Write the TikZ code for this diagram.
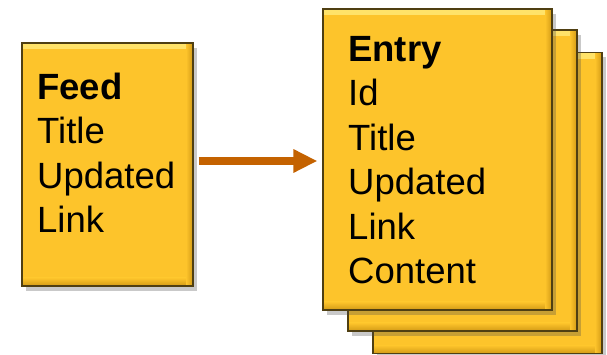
\documentclass[tikz,border=0pt]{standalone}
\usepackage{fontspec}
\setmainfont{Liberation Sans}
\usetikzlibrary{arrows.meta}
\usetikzlibrary{shadows}
\usetikzlibrary{positioning}

\definecolor{cardfill}{HTML}{FDC42B}
\definecolor{cardedge}{HTML}{4F3F12}
\definecolor{cardlight}{HTML}{FFE36A}
\definecolor{carddark}{HTML}{D29A16}
\definecolor{linkcol}{HTML}{C46200}

\tikzset{
  card/.style={rectangle, draw=cardedge, line width=1.2pt, fill=cardfill,
    inner sep=0pt, minimum width=229pt, minimum height=301pt,
    drop shadow={shadow xshift=4pt, shadow yshift=-5pt, opacity=0.3, fill=black!70},
    path picture={
      \shade[top color=cardlight, bottom color=cardfill]
        (path picture bounding box.north west) rectangle ([yshift=-6pt]path picture bounding box.north east);
      \shade[top color=cardfill, bottom color=carddark]
        ([yshift=8pt]path picture bounding box.south west) rectangle (path picture bounding box.south east);
      \shade[left color=cardfill, right color=carddark]
        ([xshift=-7pt]path picture bounding box.south east) rectangle (path picture bounding box.north east);
    }},
  fields/.style={align=left, inner sep=0pt, anchor=base west,
    font=\fontsize{36.5}{44.5}\selectfont},
  link/.style={draw=linkcol, line width=8pt, -{Triangle[length=24pt,width=22pt]},
    shorten <=5pt, shorten >=5pt}
}

\begin{document}
\begin{tikzpicture}[x=1pt,y=1pt]
  \useasboundingbox (0,0) rectangle (607,355);
  \begin{scope}[every node/.style={card}]
    \node (feed) at (107.5,190.5) [minimum width=171pt, minimum height=243pt] {};
    \node (entryC) at (487.5,152) {};
    \node (entryB) at (462.5,174.5) {};
    \node (entry) at (437.5,195.5) {};
  \end{scope}
  % base of a multi-line node is its last line
  \node[fields] (feedtext) at (37,122) {\textbf{Feed}\\Title\\Updated\\Link};
  \node[fields] (entrytext) at (348,71) {\textbf{Entry}\\Id\\Title\\Updated\\Link\\Content};
  \draw[link] ([yshift=3.5pt]feed.east) -- ([yshift=-1.5pt]entry.west);
\end{tikzpicture}
\end{document}
